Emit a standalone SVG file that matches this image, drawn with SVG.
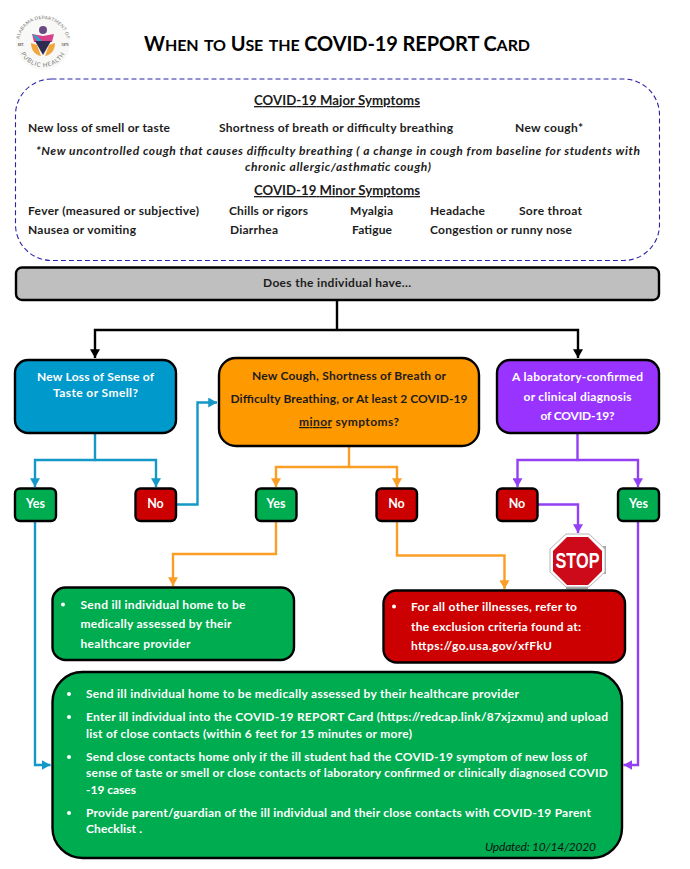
<svg xmlns="http://www.w3.org/2000/svg" width="690" height="869" viewBox="0 0 690 869">
<style>
text{font-family:"Lato","Carlito","Open Sans",sans-serif;font-weight:700;font-size:12px;fill:#1c1c1c;text-decoration-skip-ink:none}
.w{fill:#fff}
.c{text-anchor:middle}
.yn{font-size:12.5px}
.box{stroke:#000;stroke-width:2.4}
.g{fill:#00ac50}.r{fill:#cc0000}
.ln{fill:none;stroke-width:2.4}
.k{stroke:#000}.b{stroke:#1398c8}.o{stroke:#fb9e26}.p{stroke:#9340f5}
.h{font-size:13.2px;text-decoration:underline}
.i{font-style:italic}
.t{font-size:23px}
</style>
<defs>
<marker id="ak" markerWidth="10" markerHeight="10" refX="7" refY="4" orient="auto" markerUnits="userSpaceOnUse" viewBox="0 0 8 8"><path d="M0 0L7 4L0 8Z" fill="#000"/></marker>
<marker id="ab" markerWidth="10" markerHeight="10" refX="7" refY="4" orient="auto" markerUnits="userSpaceOnUse" viewBox="0 0 8 8"><path d="M0 0L7 4L0 8Z" fill="#1398c8"/></marker>
<marker id="ao" markerWidth="10" markerHeight="10" refX="7" refY="4" orient="auto" markerUnits="userSpaceOnUse" viewBox="0 0 8 8"><path d="M0 0L7 4L0 8Z" fill="#fb9e26"/></marker>
<marker id="ap" markerWidth="10" markerHeight="10" refX="7" refY="4" orient="auto" markerUnits="userSpaceOnUse" viewBox="0 0 8 8"><path d="M0 0L7 4L0 8Z" fill="#9340f5"/></marker>
<path id="arcT" d="M19 43A24 24 0 0 1 67 43"/>
<path id="arcB" d="M18 42A25 25 0 0 0 68 42"/>
</defs>
<rect width="690" height="869" fill="#fff"/>
<g id="logo">
<circle cx="43" cy="43" r="27" fill="#f8f8f6"/>
<text style="font-size:4.6px;fill:#777;font-weight:400"><textPath href="#arcT" startOffset="50%" text-anchor="middle" letter-spacing=".3">ALABAMA DEPARTMENT OF</textPath></text>
<text style="font-size:6px;fill:#777;font-weight:400"><textPath href="#arcB" startOffset="50%" text-anchor="middle" letter-spacing=".7">PUBLIC HEALTH</textPath></text>
<text x="21" y="46" class="c" style="font-size:3.2px;fill:#555">EST.</text>
<text x="65" y="46" class="c" style="font-size:3.2px;fill:#555">1875</text>
<path d="M31 43C31 50 35 55 41 56L37 45Z" fill="#f0a63c"/>
<path d="M55 43C55 50 51 55 45 56L49 45Z" fill="#f0a63c"/>
<circle cx="43" cy="30" r="4" fill="#6a4a86"/>
<path d="M32 34L43 36L54 34L52 42H34Z" fill="#d9408c"/>
<path d="M32 34L38 42H43L37 36Z" fill="#2aa6c9"/>
<path d="M35 41H51L43 55Z" fill="#2f2b50"/>
</g>
<text id="title" x="144" y="51" textLength="386" style="font-size:20px;fill:#000;font-variant:small-caps">W<tspan class="t">hen to</tspan> U<tspan class="t">se the</tspan> COVID-19 REPORT C<tspan class="t">ard</tspan></text>
<g id="symptoms">
<rect x="15.500" y="79" width="644" height="181.500" rx="36" fill="none" stroke="#2a24a8" stroke-width="1.100" stroke-dasharray="5 3"/>
<text x="337" y="105" class="c h" textLength="166">COVID-19 Major Symptoms</text>
<text x="28" y="132" textLength="142">New loss of smell or taste</text>
<text x="219" y="132" textLength="234">Shortness of breath or difficulty breathing</text>
<text x="515" y="132" textLength="68">New cough*</text>
<text x="36" y="155" class="i" textLength="604">*New uncontrolled cough that causes difficulty breathing ( a change in cough from baseline for students with</text>
<text x="245" y="171" class="i" textLength="186">chronic allergic/asthmatic cough)</text>
<text x="337" y="195" class="c h" textLength="166">COVID-19 Minor Symptoms</text>
<text x="28" y="215" textLength="171">Fever (measured or subjective)</text>
<text x="229" y="215" textLength="79">Chills or rigors</text>
<text x="350" y="215" textLength="43">Myalgia</text>
<text x="430" y="215" textLength="55">Headache</text>
<text x="519" y="215" textLength="63">Sore throat</text>
<text x="28" y="234" textLength="108">Nausea or vomiting</text>
<text x="230" y="234" textLength="48">Diarrhea</text>
<text x="352" y="234" textLength="40">Fatigue</text>
<text x="430" y="234" textLength="142">Congestion or runny nose</text>
</g>
<g id="connectors">
<path class="ln k" d="M337 300V330M337 330H95V358" marker-end="url(#ak)"/>
<path class="ln k" d="M337 330H578V358" marker-end="url(#ak)"/>
<path class="ln b" d="M95 433V460H35V487" marker-end="url(#ab)"/>
<path class="ln b" d="M95 460H156V487" marker-end="url(#ab)"/>
<path class="ln b" d="M176 504.500H197.500V402.500H217" marker-end="url(#ab)"/>
<path class="ln b" d="M35 521V765H50.500" marker-end="url(#ab)"/>
<path class="ln o" d="M349 446V467H276V487" marker-end="url(#ao)"/>
<path class="ln o" d="M349 467H397V487" marker-end="url(#ao)"/>
<path class="ln o" d="M276 521V554H173V586" marker-end="url(#ao)"/>
<path class="ln o" d="M397 521V555.500H504.500V589" marker-end="url(#ao)"/>
<path class="ln p" d="M577.500 433V460H517.500V487" marker-end="url(#ap)"/>
<path class="ln p" d="M577.500 460H638V487" marker-end="url(#ap)"/>
<path class="ln p" d="M538 504.500H578V533" marker-end="url(#ap)"/>
<path class="ln p" d="M638 521V765H623.500" marker-end="url(#ap)"/>
</g>
<g id="question-bar"><rect class="box" x="16" y="267.500" width="643" height="32.500" rx="6" fill="#bfbfbf"/>
<text x="337" y="287" class="c" textLength="148">Does the individual have...</text></g>
<g id="q-taste"><rect class="box" x="15" y="360" width="161" height="73" rx="13" fill="#0099cc"/>
<text x="95.500" y="381" class="c w" textLength="117">New Loss of Sense of</text>
<text x="95.500" y="397" class="c w" textLength="85">Taste or Smell?</text></g>
<g id="q-cough"><rect class="box" x="219" y="358" width="260" height="88" rx="17" fill="#ff9900"/>
<text x="349" y="380" class="c" textLength="194">New Cough, Shortness of Breath or</text>
<text x="349" y="403" class="c" textLength="237">Difficulty Breathing, or At least 2 COVID-19</text>
<text x="349" y="426" class="c" textLength="100"><tspan text-decoration="underline">minor</tspan> symptoms?</text></g>
<g id="q-lab"><rect class="box" x="497" y="360" width="162" height="73" rx="13" fill="#9933ff"/>
<text x="577.500" y="381" class="c w" textLength="131">A laboratory-confirmed</text>
<text x="577.500" y="401" class="c w" textLength="108">or clinical diagnosis</text>
<text x="577.500" y="420" class="c w" textLength="74">of COVID-19?</text></g>
<g id="yes-1"><rect class="box g" x="15" y="488.500" width="41" height="32.500" rx="5"/><text x="35.500" y="508" class="c w yn">Yes</text></g>
<g id="no-1"><rect class="box r" x="135.500" y="488.500" width="40.500" height="32.500" rx="5"/><text x="155.500" y="508" class="c w yn">No</text></g>
<g id="yes-2"><rect class="box g" x="256" y="488.500" width="40.500" height="32.500" rx="5"/><text x="276" y="508" class="c w yn">Yes</text></g>
<g id="no-2"><rect class="box r" x="376.500" y="488.500" width="40.500" height="32.500" rx="5"/><text x="396.500" y="508" class="c w yn">No</text></g>
<g id="no-3"><rect class="box r" x="497" y="488.500" width="40.500" height="32.500" rx="5"/><text x="517" y="508" class="c w yn">No</text></g>
<g id="yes-3"><rect class="box g" x="618" y="488.500" width="41" height="32.500" rx="5"/><text x="638.500" y="508" class="c w yn">Yes</text></g>
<g id="stop">
<rect x="566" y="585" width="22" height="4" fill="#9a9a9a"/>
<rect x="603" y="546" width="3" height="28" fill="#a8a8a8"/>
<polygon points="566,534 589,534 605,549 605,572 589,587 566,587 550,572 550,549" fill="#fff" stroke="#b5b5b5" stroke-width="1"/>
<polygon points="567,537 588,537 602,551 602,571 588,585 567,585 553,571 553,551" fill="#cc0a1a"/>
<text transform="translate(577.500 568) scale(.74 1)" class="c w" style="font-size:22px;fill:#fff;font-family:'Liberation Sans',sans-serif">STOP</text>
</g>
<g id="action-home"><rect class="box g" x="52.500" y="587.500" width="241.500" height="72.500" rx="13"/>
<circle cx="63" cy="604.500" r="2" fill="#fff"/>
<text x="80.500" y="609" class="w" textLength="165">Send ill individual home to be</text>
<text x="80.500" y="628" class="w" textLength="151">medically assessed by their</text>
<text x="80.500" y="648" class="w" textLength="110">healthcare provider</text></g>
<g id="action-exclusion"><rect class="box r" x="383.500" y="590.500" width="241.500" height="72" rx="13"/>
<circle cx="394" cy="606.500" r="2" fill="#fff"/>
<text x="411" y="611" class="w" textLength="166">For all other illnesses, refer to</text>
<text x="411" y="631" class="w" textLength="170">the exclusion criteria found at:</text>
<text x="411" y="650" class="w" textLength="141">https://go.usa.gov/xfFkU</text></g>
<g id="action-report"><rect class="box g" x="52.500" y="672" width="569.500" height="186" rx="30"/>
<circle cx="69" cy="694" r="2" fill="#fff"/>
<circle cx="69" cy="717" r="2" fill="#fff"/>
<circle cx="69" cy="757" r="2" fill="#fff"/>
<circle cx="69" cy="813" r="2" fill="#fff"/>
<text x="86" y="698" class="w" textLength="433">Send ill individual home to be medically assessed by their healthcare provider</text>
<text x="86" y="721" class="w" textLength="522">Enter ill individual into the COVID-19 REPORT Card (https://redcap.link/87xjzxmu) and upload</text>
<text x="86" y="738" class="w" textLength="326">list of close contacts (within 6 feet for 15 minutes or more)</text>
<text x="86" y="761" class="w" textLength="501">Send close contacts home only if the ill student had the COVID-19 symptom of new loss of</text>
<text x="86" y="777" class="w" textLength="522">sense of taste or smell or close contacts of laboratory confirmed or clinically diagnosed COVID</text>
<text x="86" y="794" class="w" textLength="50">-19 cases</text>
<text x="86" y="817" class="w" textLength="505">Provide parent/guardian of the ill individual and their close contacts with COVID-19 Parent</text>
<text x="86" y="833" class="w" textLength="56">Checklist .</text>
<text x="485" y="851" class="i" textLength="111" style="font-weight:400;fill:#111">Updated: 10/14/2020</text></g>
</svg>
